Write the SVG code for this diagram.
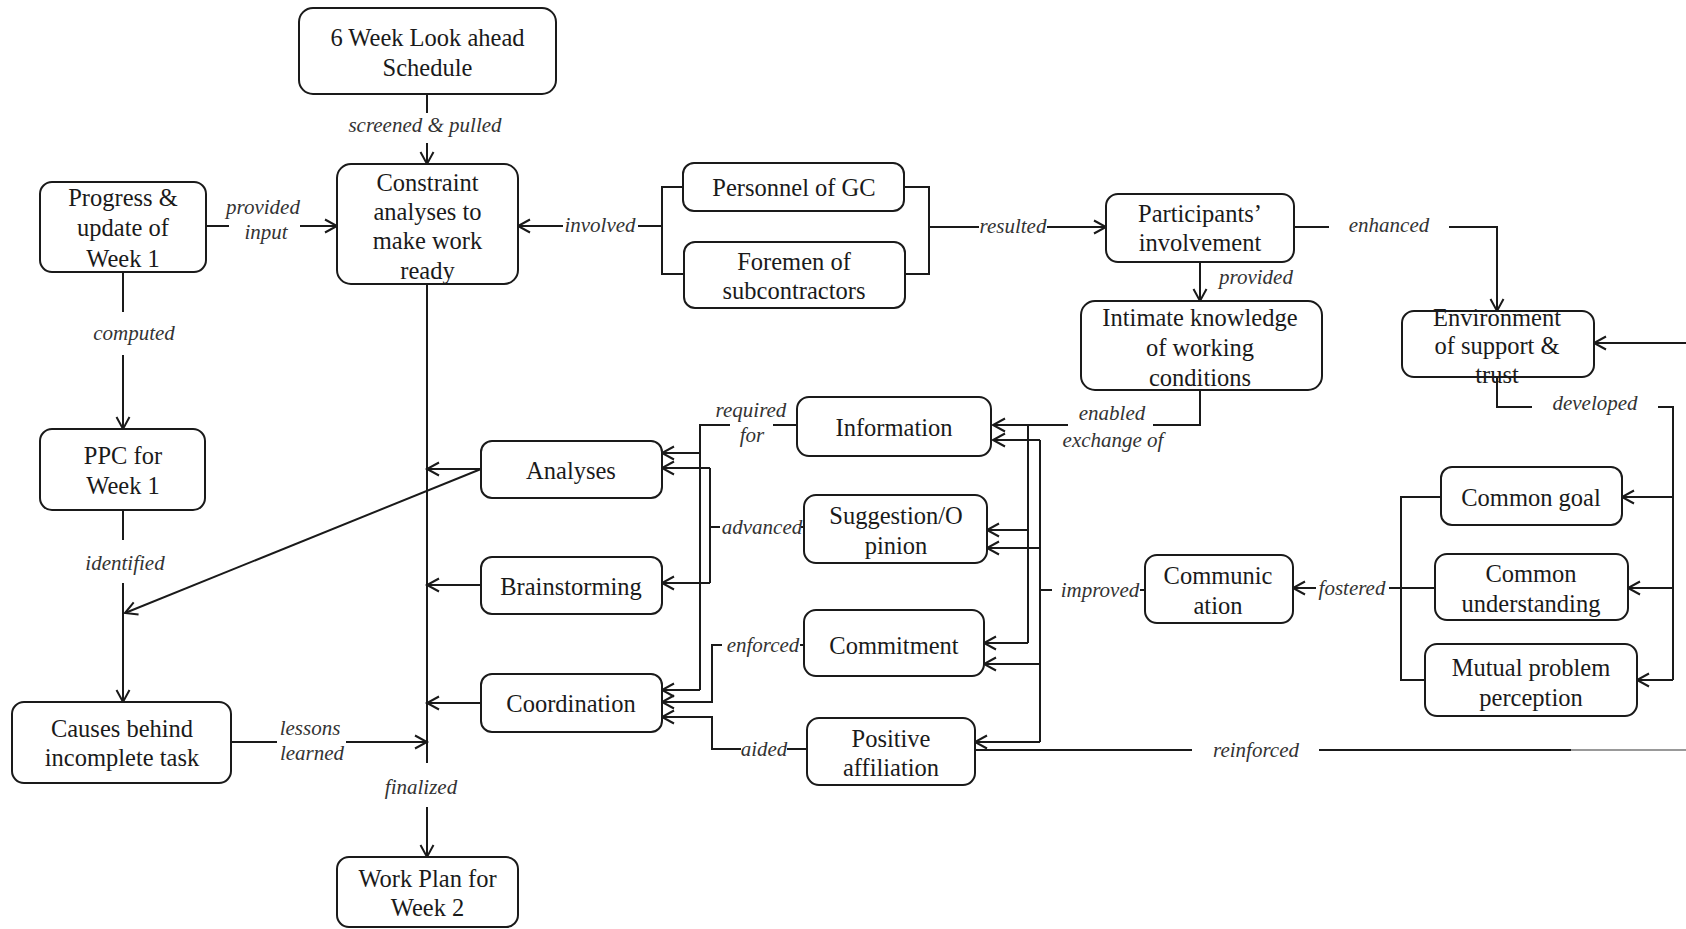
<svg xmlns="http://www.w3.org/2000/svg" width="1686" height="929" viewBox="0 0 1686 929">
  <defs>
    <style>
      .box { fill: #fff; stroke: #1a1a1a; stroke-width: 2; }
      .nt { font-family: "Liberation Serif", "Times New Roman", serif; font-size: 24.5px; fill: #1a1a1a; text-anchor: middle; }
      .lb { font-family: "Liberation Serif", "Times New Roman", serif; font-style: italic; font-size: 21px; fill: #333; text-anchor: middle; }
      .ln { fill: none; stroke: #1a1a1a; stroke-width: 2; }
      .ar { marker-end: url(#arr); }
    </style>
    <marker id="arr" markerUnits="userSpaceOnUse" viewBox="-15 -10 18 20" markerWidth="18" markerHeight="20" refX="0" refY="0" orient="auto">
      <path d="M-12,-6.5 L0,0 L-12,6.5" fill="none" stroke="#1a1a1a" stroke-width="2"/>
    </marker>
  </defs>
  <rect width="1686" height="929" fill="#fff"/>

  <!-- connectors -->
  <g id="connectors">
    <!-- look-ahead schedule into constraint analyses -->
    <path class="ln" d="M427 94 V113"/>
    <path class="ln ar" d="M427 143 V164"/>
    <!-- progress update into constraint analyses -->
    <path class="ln" d="M206 226 H229"/>
    <path class="ln ar" d="M300 226 H337"/>
    <!-- participants bracket -->
    <path class="ln" d="M683 187 H662 V274 H684"/>
    <path class="ln" d="M662 226 H638"/>
    <path class="ln ar" d="M563 226 H518"/>
    <path class="ln" d="M904 187 H929 V274 H905"/>
    <path class="ln" d="M929 227 H979"/>
    <path class="ln ar" d="M1047 227 H1106"/>
    <!-- participants' involvement outputs -->
    <path class="ln ar" d="M1200 262 V301"/>
    <path class="ln" d="M1294 227 H1329"/>
    <path class="ln ar" d="M1449 227 H1497 V311"/>
    <!-- intimate knowledge: exchange of -->
    <path class="ln" d="M1200 390 V425 H1153"/>
    <path class="ln ar" d="M1068 425 H993"/>
    <path class="ln" d="M1028 425 V643"/>
    <path class="ln ar" d="M1028 530 H987"/>
    <path class="ln ar" d="M1028 643 H984"/>
    <!-- communication: improved -->
    <path class="ln" d="M1145 590 H1140"/>
    <path class="ln" d="M1052 590 H1040"/>
    <path class="ln" d="M1040 440 V742"/>
    <path class="ln ar" d="M1040 440 H993"/>
    <path class="ln ar" d="M1040 548 H987"/>
    <path class="ln ar" d="M1040 664 H984"/>
    <path class="ln ar" d="M1040 742 H975"/>
    <!-- information: required for -->
    <path class="ln" d="M797 425 H773"/>
    <path class="ln" d="M730 425 H700 V690"/>
    <path class="ln ar" d="M700 453 H662"/>
    <path class="ln ar" d="M700 690 H662"/>
    <!-- suggestion: advanced -->
    <path class="ln" d="M801 527 H804"/>
    <path class="ln" d="M720 527 H710"/>
    <path class="ln" d="M710 468 V583"/>
    <path class="ln ar" d="M710 468 H662"/>
    <path class="ln ar" d="M710 583 H662"/>
    <!-- commitment: enforced -->
    <path class="ln" d="M800 645 H804"/>
    <path class="ln ar" d="M722 645 H712 V702 H662"/>
    <!-- positive affiliation: aided -->
    <path class="ln" d="M807 749 H787"/>
    <path class="ln ar" d="M741 749 H712 V717 H662"/>
    <!-- activities into weekly plan line -->
    <path class="ln ar" d="M481 469 H427"/>
    <path class="ln ar" d="M481 469 L125 613"/>
    <path class="ln ar" d="M481 585 H427"/>
    <path class="ln ar" d="M481 703 H427"/>
    <path class="ln" d="M231 742 H277"/>
    <path class="ln ar" d="M346 742 H427"/>
    <path class="ln" d="M427 284 V763"/>
    <path class="ln ar" d="M427 807 V857"/>
    <!-- left column -->
    <path class="ln" d="M123 272 V312"/>
    <path class="ln ar" d="M123 355 V429"/>
    <path class="ln" d="M123 510 V540"/>
    <path class="ln ar" d="M123 583 V702"/>
    <!-- environment: developed -->
    <path class="ln" d="M1497 377 V407 H1532"/>
    <path class="ln" d="M1658 407 H1673 V680"/>
    <path class="ln ar" d="M1673 497 H1622"/>
    <path class="ln ar" d="M1673 588 H1628"/>
    <path class="ln ar" d="M1673 680 H1637"/>
    <path class="ln ar" d="M1686 343 H1594"/>
    <!-- fostered -->
    <path class="ln" d="M1441 497 H1401 V680 H1425"/>
    <path class="ln" d="M1435 588 H1389"/>
    <path class="ln ar" d="M1316 588 H1293"/>
    <!-- reinforced -->
    <path class="ln" d="M975 750 H1192"/>
    <path class="ln" d="M1319 750 H1571"/>
    <path d="M1571 750 H1686" fill="none" stroke="#999" stroke-width="2"/>

    <!-- connector labels -->
    <text class="lb" x="425" y="132">screened &amp; pulled</text>
    <text class="lb" x="263" y="214">provided</text>
    <text class="lb" x="266" y="239">input</text>
    <text class="lb" x="600" y="232">involved</text>
    <text class="lb" x="1013" y="233">resulted</text>
    <text class="lb" x="1256" y="284">provided</text>
    <text class="lb" x="1389" y="232">enhanced</text>
    <text class="lb" x="1112" y="420">enabled</text>
    <text class="lb" x="1113" y="447">exchange of</text>
    <text class="lb" x="1100" y="597">improved</text>
    <text class="lb" x="751" y="417">required</text>
    <text class="lb" x="752" y="442">for</text>
    <text class="lb" x="762" y="534">advanced</text>
    <text class="lb" x="763" y="652">enforced</text>
    <text class="lb" x="764" y="756">aided</text>
    <text class="lb" x="310" y="735">lessons</text>
    <text class="lb" x="312" y="760">learned</text>
    <text class="lb" x="421" y="794">finalized</text>
    <text class="lb" x="134" y="340">computed</text>
    <text class="lb" x="125" y="570">identified</text>
    <text class="lb" x="1595" y="410">developed</text>
    <text class="lb" x="1352" y="595">fostered</text>
    <text class="lb" x="1256" y="757">reinforced</text>
  </g>

  <!-- nodes -->
  <g id="six-week">
    <rect class="box" x="299" y="8" width="257" height="86" rx="14"/>
    <text class="nt" x="427.5"><tspan x="427.5" y="45.5">6 Week Look ahead</tspan><tspan x="427.5" y="75.5">Schedule</tspan></text>
  </g>
  <g id="constraint">
    <rect class="box" x="337" y="164" width="181" height="120" rx="14"/>
    <text class="nt"><tspan x="427.5" y="190.5">Constraint</tspan><tspan x="427.5" y="220">analyses to</tspan><tspan x="427.5" y="249">make work</tspan><tspan x="427.5" y="278.5">ready</tspan></text>
  </g>
  <g id="progress">
    <rect class="box" x="40" y="182" width="166" height="90" rx="12"/>
    <text class="nt"><tspan x="123" y="206">Progress &amp;</tspan><tspan x="123" y="236">update of</tspan><tspan x="123" y="266.5">Week 1</tspan></text>
  </g>
  <g id="ppc">
    <rect class="box" x="40" y="429" width="165" height="81" rx="12"/>
    <text class="nt"><tspan x="123" y="463.5">PPC for</tspan><tspan x="123" y="493.5">Week 1</tspan></text>
  </g>
  <g id="causes">
    <rect class="box" x="12" y="702" width="219" height="81" rx="12"/>
    <text class="nt"><tspan x="122" y="736.5">Causes behind</tspan><tspan x="122" y="765.5">incomplete task</tspan></text>
  </g>
  <g id="work-plan">
    <rect class="box" x="337" y="857" width="181" height="70" rx="12"/>
    <text class="nt"><tspan x="427.5" y="886.5">Work Plan for</tspan><tspan x="427.5" y="915.5">Week 2</tspan></text>
  </g>
  <g id="personnel">
    <rect class="box" x="683" y="163" width="221" height="48" rx="11"/>
    <text class="nt" x="794" y="195.5">Personnel of GC</text>
  </g>
  <g id="foremen">
    <rect class="box" x="684" y="242" width="221" height="66" rx="11"/>
    <text class="nt"><tspan x="794" y="269.5">Foremen of</tspan><tspan x="794" y="298.5">subcontractors</tspan></text>
  </g>
  <g id="participants">
    <rect class="box" x="1106" y="194" width="188" height="68" rx="12"/>
    <text class="nt"><tspan x="1200" y="221.5">Participants’</tspan><tspan x="1200" y="250.5">involvement</tspan></text>
  </g>
  <g id="intimate">
    <rect class="box" x="1081" y="301" width="241" height="89" rx="14"/>
    <text class="nt"><tspan x="1200" y="325.5">Intimate knowledge</tspan><tspan x="1200" y="355.5">of working</tspan><tspan x="1200" y="385.5">conditions</tspan></text>
  </g>
  <g id="environment">
    <rect class="box" x="1402" y="311" width="192" height="66" rx="12"/>
    <text class="nt"><tspan x="1497" y="325.5">Environment</tspan><tspan x="1497" y="353.5">of support &amp;</tspan><tspan x="1497" y="382.5">trust</tspan></text>
  </g>
  <g id="information">
    <rect class="box" x="797" y="397" width="194" height="59" rx="12"/>
    <text class="nt" x="894" y="435.5">Information</text>
  </g>
  <g id="analyses">
    <rect class="box" x="481" y="441" width="181" height="57" rx="11"/>
    <text class="nt" x="571" y="478.5">Analyses</text>
  </g>
  <g id="suggestion">
    <rect class="box" x="804" y="495" width="183" height="68" rx="12"/>
    <text class="nt"><tspan x="896" y="523.5">Suggestion/O</tspan><tspan x="896" y="553.5">pinion</tspan></text>
  </g>
  <g id="brainstorming">
    <rect class="box" x="481" y="557" width="181" height="57" rx="11"/>
    <text class="nt" x="571" y="594.5">Brainstorming</text>
  </g>
  <g id="commitment">
    <rect class="box" x="804" y="610" width="180" height="66" rx="12"/>
    <text class="nt" x="894" y="653.5">Commitment</text>
  </g>
  <g id="coordination">
    <rect class="box" x="481" y="674" width="181" height="58" rx="11"/>
    <text class="nt" x="571" y="711.5">Coordination</text>
  </g>
  <g id="positive">
    <rect class="box" x="807" y="718" width="168" height="67" rx="12"/>
    <text class="nt"><tspan x="891" y="746.5">Positive</tspan><tspan x="891" y="775.5">affiliation</tspan></text>
  </g>
  <g id="communication">
    <rect class="box" x="1145" y="555" width="148" height="68" rx="12"/>
    <text class="nt"><tspan x="1218" y="583.5">Communic</tspan><tspan x="1218" y="613.5">ation</tspan></text>
  </g>
  <g id="common-goal">
    <rect class="box" x="1441" y="467" width="181" height="58" rx="11"/>
    <text class="nt" x="1531" y="505.5">Common goal</text>
  </g>
  <g id="common-understanding">
    <rect class="box" x="1435" y="554" width="193" height="66" rx="12"/>
    <text class="nt"><tspan x="1531" y="581.5">Common</tspan><tspan x="1531" y="611.5">understanding</tspan></text>
  </g>
  <g id="mutual-problem">
    <rect class="box" x="1425" y="644" width="212" height="72" rx="12"/>
    <text class="nt"><tspan x="1531" y="675.5">Mutual problem</tspan><tspan x="1531" y="705.5">perception</tspan></text>
  </g>
</svg>
